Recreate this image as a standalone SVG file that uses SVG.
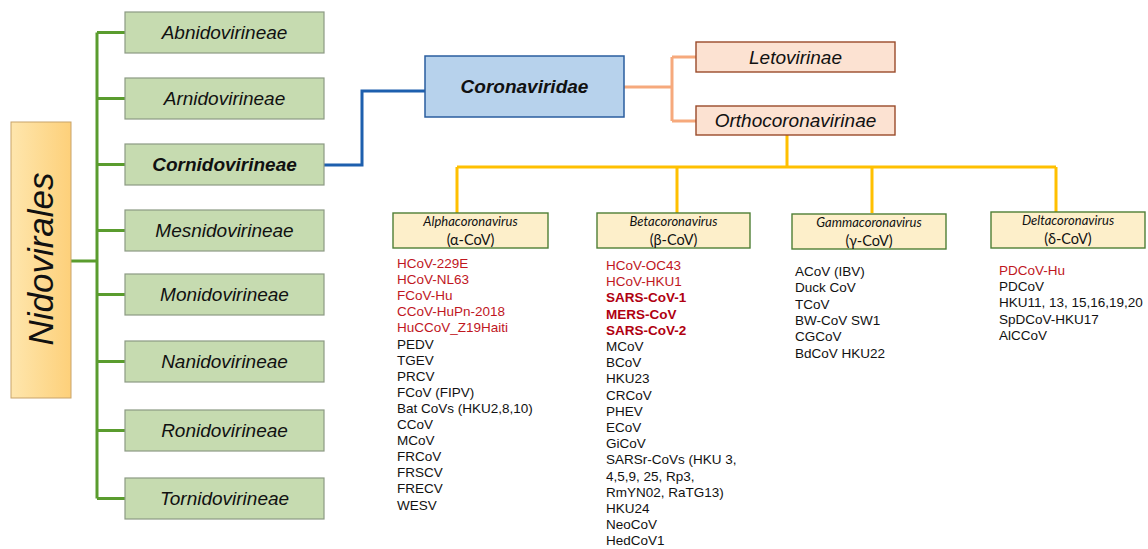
<svg xmlns="http://www.w3.org/2000/svg" width="1148" height="549" viewBox="0 0 1148 549">
<defs>
<linearGradient id="nidoGrad" x1="0" y1="0" x2="1" y2="0">
<stop offset="0" stop-color="#fee6ad"/>
<stop offset="1" stop-color="#fdd07a"/>
</linearGradient>
</defs>
<style>
.sub rect{fill:#c6dbb0;stroke:#8c9a84;stroke-width:1.2}
.sub text{font-family:"Liberation Sans",Arial,sans-serif;font-style:italic;font-size:19px;text-anchor:middle;fill:#111}
.genus rect{fill:#fdefca;stroke:#4f7f35;stroke-width:1.4}
.gt{font-family:Lato,"Liberation Sans",sans-serif;font-style:italic;font-size:13px;text-anchor:middle;fill:#111}
.gs{font-family:Lato,"Liberation Sans",sans-serif;font-size:14.5px;text-anchor:middle;fill:#111}
.pink rect{fill:#fce2d2;stroke:#9a4a2a;stroke-width:1.4}
.pink text{font-family:"Liberation Sans",Arial,sans-serif;font-style:italic;font-size:19px;text-anchor:middle;fill:#111}
.list{font-family:"Liberation Sans",Arial,sans-serif;font-size:13.5px;fill:#111}
.red{fill:#c0161e}
.bred{fill:#b00010;font-weight:bold}
.g{stroke:#5a9c2e;stroke-width:3;fill:none}
.b{stroke:#1d5fae;stroke-width:3;fill:none}
.o{stroke:#f6a97c;stroke-width:3;fill:none}
.y{stroke:#ffc000;stroke-width:3;fill:none}
</style>
<rect width="1148" height="549" fill="#fff"/>

<g id="connectors">
<path class="g" d="M71 261H97M97 32.5V498.5M97 32.5H125M97 98.5H125M97 164.5H125M97 230.5H125M97 294.5H125M97 361.5H125M97 430.5H125M97 498.5H125"/>
<path class="b" d="M324 165H362V91H425"/>
<path class="o" d="M624 87H672M672 57V121M672 57H696M672 121H696"/>
<path class="y" d="M787 135V167M457 167H1056M457 167V213M677 167V213M872 167V213M1056 167V213"/>
</g>

<g id="nidovirales">
<rect x="11" y="122" width="60" height="276" fill="url(#nidoGrad)" stroke="#c8a36a" stroke-width="1"/>
<text transform="translate(53,259) rotate(-90)" font-family="Liberation Sans, Arial, sans-serif" font-style="italic" font-size="35" text-anchor="middle" fill="#111">Nidovirales</text>
</g>

<g id="abnidovirineae" class="sub"><rect x="125" y="12" width="199" height="41"/><text x="224.5" y="39">Abnidovirineae</text></g>
<g id="arnidovirineae" class="sub"><rect x="125" y="78" width="199" height="41"/><text x="224.5" y="105">Arnidovirineae</text></g>
<g id="cornidovirineae" class="sub"><rect x="125" y="144" width="199" height="41"/><text x="224.5" y="171" font-weight="bold">Cornidovirineae</text></g>
<g id="mesnidovirineae" class="sub"><rect x="125" y="210" width="199" height="41"/><text x="224.5" y="237">Mesnidovirineae</text></g>
<g id="monidovirineae" class="sub"><rect x="125" y="274" width="199" height="41"/><text x="224.5" y="301">Monidovirineae</text></g>
<g id="nanidovirineae" class="sub"><rect x="125" y="341" width="199" height="41"/><text x="224.5" y="368">Nanidovirineae</text></g>
<g id="ronidovirineae" class="sub"><rect x="125" y="410" width="199" height="41"/><text x="224.5" y="437">Ronidovirineae</text></g>
<g id="tornidovirineae" class="sub"><rect x="125" y="478" width="199" height="41"/><text x="224.5" y="505">Tornidovirineae</text></g>

<g id="coronaviridae">
<rect x="425" y="56" width="199" height="61" fill="#b7d2ec" stroke="#2a5d9f" stroke-width="1.5"/>
<text x="524.5" y="93" font-family="Liberation Sans, Arial, sans-serif" font-style="italic" font-weight="bold" font-size="19" text-anchor="middle" fill="#111">Coronaviridae</text>
</g>

<g id="letovirinae" class="pink"><rect x="696" y="42" width="199" height="30"/><text x="795.5" y="64">Letovirinae</text></g>
<g id="orthocoronavirinae" class="pink"><rect x="696" y="106" width="199" height="29"/><text x="795.5" y="127">Orthocoronavirinae</text></g>

<g id="alphacoronavirus" class="genus">
<rect x="393" y="213" width="155" height="35"/>
<text class="gt" x="470.5" y="226">Alphacoronavirus</text>
<text class="gs" x="470.5" y="245">(α-CoV)</text>
<text class="list" x="397">
<tspan x="397" y="268" class="red">HCoV-229E</tspan>
<tspan x="397" dy="16.1" class="red">HCoV-NL63</tspan>
<tspan x="397" dy="16.1" class="red">FCoV-Hu</tspan>
<tspan x="397" dy="16.1" class="red">CCoV-HuPn-2018</tspan>
<tspan x="397" dy="16.1" class="red">HuCCoV_Z19Haiti</tspan>
<tspan x="397" dy="16.1">PEDV</tspan>
<tspan x="397" dy="16.1">TGEV</tspan>
<tspan x="397" dy="16.1">PRCV</tspan>
<tspan x="397" dy="16.1">FCoV (FIPV)</tspan>
<tspan x="397" dy="16.1">Bat CoVs (HKU2,8,10)</tspan>
<tspan x="397" dy="16.1">CCoV</tspan>
<tspan x="397" dy="16.1">MCoV</tspan>
<tspan x="397" dy="16.1">FRCoV</tspan>
<tspan x="397" dy="16.1">FRSCV</tspan>
<tspan x="397" dy="16.1">FRECV</tspan>
<tspan x="397" dy="16.1">WESV</tspan>
</text>
</g>

<g id="betacoronavirus" class="genus">
<rect x="597" y="213" width="153" height="35"/>
<text class="gt" x="673.5" y="226">Betacoronavirus</text>
<text class="gs" x="673.5" y="245">(β-CoV)</text>
<text class="list" x="606">
<tspan x="606" y="270" class="red">HCoV-OC43</tspan>
<tspan x="606" dy="16.2" class="red">HCoV-HKU1</tspan>
<tspan x="606" dy="16.2" class="bred">SARS-CoV-1</tspan>
<tspan x="606" dy="16.2" class="bred">MERS-CoV</tspan>
<tspan x="606" dy="16.2" class="bred">SARS-CoV-2</tspan>
<tspan x="606" dy="16.2">MCoV</tspan>
<tspan x="606" dy="16.2">BCoV</tspan>
<tspan x="606" dy="16.2">HKU23</tspan>
<tspan x="606" dy="16.2">CRCoV</tspan>
<tspan x="606" dy="16.2">PHEV</tspan>
<tspan x="606" dy="16.2">ECoV</tspan>
<tspan x="606" dy="16.2">GiCoV</tspan>
<tspan x="606" dy="16.2">SARSr-CoVs (HKU 3,</tspan>
<tspan x="606" dy="16.2">4,5,9, 25, Rp3,</tspan>
<tspan x="606" dy="16.2">RmYN02, RaTG13)</tspan>
<tspan x="606" dy="16.2">HKU24</tspan>
<tspan x="606" dy="16.2">NeoCoV</tspan>
<tspan x="606" dy="16.2">HedCoV1</tspan>
</text>
</g>

<g id="gammacoronavirus" class="genus">
<rect x="792" y="214" width="154" height="35"/>
<text class="gt" x="869" y="227">Gammacoronavirus</text>
<text class="gs" x="869" y="246">(γ-CoV)</text>
<text class="list" x="795">
<tspan x="795" y="276">ACoV (IBV)</tspan>
<tspan x="795" dy="16.3">Duck CoV</tspan>
<tspan x="795" dy="16.3">TCoV</tspan>
<tspan x="795" dy="16.3">BW-CoV SW1</tspan>
<tspan x="795" dy="16.3">CGCoV</tspan>
<tspan x="795" dy="16.3">BdCoV HKU22</tspan>
</text>
</g>

<g id="deltacoronavirus" class="genus">
<rect x="991" y="212" width="154" height="36"/>
<text class="gt" x="1068" y="225">Deltacoronavirus</text>
<text class="gs" x="1068" y="244">(δ-CoV)</text>
<text class="list" x="999">
<tspan x="999" y="275" class="red">PDCoV-Hu</tspan>
<tspan x="999" dy="16.2">PDCoV</tspan>
<tspan x="999" dy="16.2">HKU11, 13, 15,16,19,20</tspan>
<tspan x="999" dy="16.2">SpDCoV-HKU17</tspan>
<tspan x="999" dy="16.2">AlCCoV</tspan>
</text>
</g>
</svg>
